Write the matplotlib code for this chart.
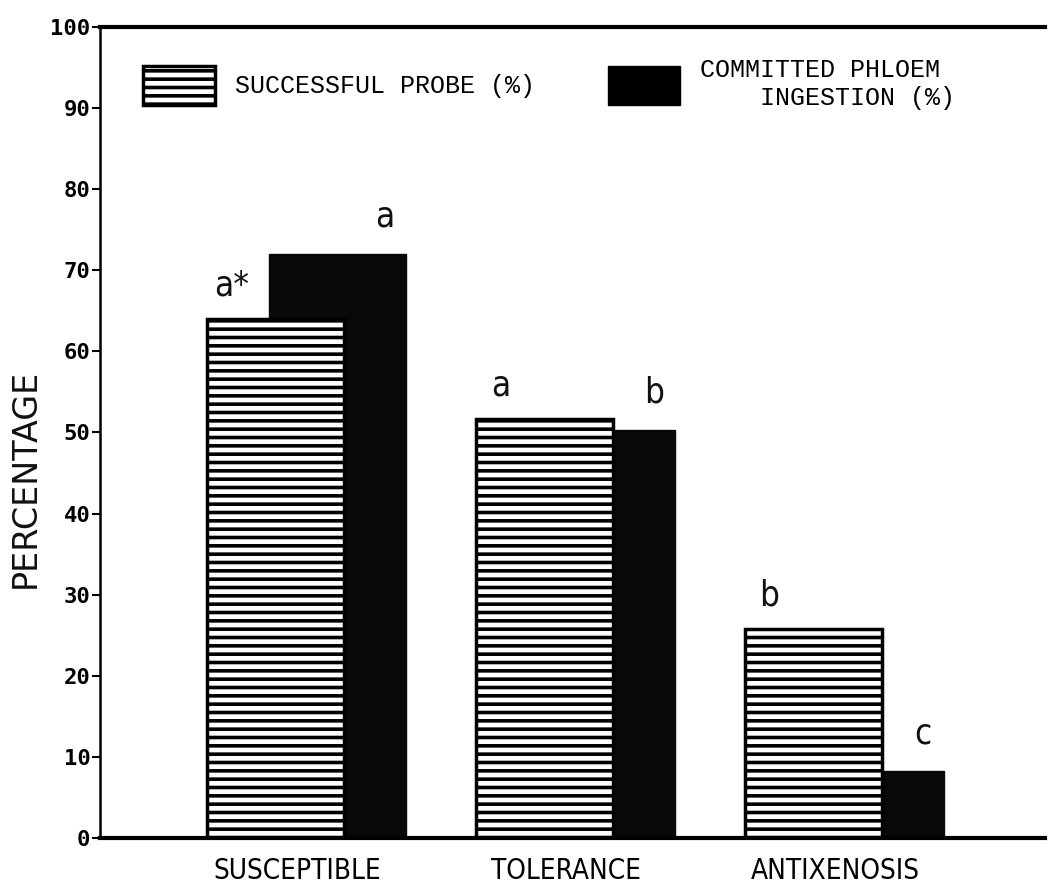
''' Probing behaviour by plant resistance category
overlapping bars: successful probe vs committed phloem ingestion'''

import matplotlib.pyplot as plt
from matplotlib.patches import Patch
import numpy as np

# data
categories = ['SUSCEPTIBLE', 'TOLERANCE', 'ANTIXENOSIS']
probe = [64, 51.7, 25.8]          # successful probe (%)
phloem = [72, 50.3, 8.3]          # committed phloem ingestion (%)
probe_letters = ['a*', 'a', 'b']
phloem_letters = ['a', 'b', 'c']
yticks = [0, 10, 20, 30, 40, 50, 60, 70, 80, 90, 100]

mono = ['Liberation Mono', 'DejaVu Sans Mono']

plt.rcParams['hatch.linewidth'] = 2.6

fig = plt.figure(figsize=(10.48, 8.9), dpi=100)
ax = fig.add_axes([0.0954, 0.0584, 0.902, 0.9113])

x = np.arange(len(categories))
w = 0.51
off = 0.23
left = x - w / 2

# black bars sit behind the striped ones
ax.bar(left + off, phloem, width=w, align='edge', color='#080808',
       edgecolor='#080808', linewidth=1, zorder=2)
ax.bar(left, probe, width=w, align='edge', facecolor='white',
       edgecolor='black', hatch='--', linewidth=2.5, zorder=3)

for xl, v, lab in zip(left, probe, probe_letters):
    ax.text(xl + 0.09, v + 2, lab, ha='center', va='bottom', fontsize=25,
            family='DejaVu Sans', fontstretch='condensed', color='#111111')
for xl, v, lab in zip(left, phloem, phloem_letters):
    ax.text(xl + off + w - 0.08, v + 2.5, lab, ha='center', va='bottom',
            fontsize=25, family='DejaVu Sans', fontstretch='condensed',
            color='#111111')

ax.set_xlim(-0.653, 2.86)
ax.set_ylim(0, 100)
ax.set_yticks(yticks)
ax.set_yticklabels([str(t) for t in yticks], family='DejaVu Sans Mono',
                   fontweight='bold', fontsize=16)
ax.set_xticks(x + 0.08)
ax.set_xticklabels(categories, family='DejaVu Sans', fontsize=20,
                   fontstretch='condensed')
ax.tick_params(axis='x', length=0, pad=14)
ax.tick_params(axis='y', length=6, width=1.5, pad=1)

ax.set_ylabel('PERCENTAGE', fontsize=24, family='DejaVu Sans',
              color='#111111')
ax.yaxis.set_label_coords(-0.062, 0.444)

ax.spines['right'].set_visible(False)
ax.spines['top'].set_linewidth(3)
ax.spines['bottom'].set_linewidth(3)
ax.spines['left'].set_linewidth(1.8)

handles = [Patch(facecolor='white', edgecolor='black', hatch='--', linewidth=2.5),
           Patch(facecolor='black', edgecolor='black')]
labels = ['SUCCESSFUL PROBE (%)', 'COMMITTED PHLOEM\n    INGESTION (%)']
leg = ax.legend(handles, labels, ncol=2, frameon=False, loc='upper left',
                bbox_to_anchor=(0.045, 0.962), borderaxespad=0, borderpad=0,
                handlelength=2.9, handleheight=2.0, handletextpad=0.8,
                columnspacing=2.9, prop={'family': mono, 'size': 18})

fig.savefig('out.png', dpi=100)
